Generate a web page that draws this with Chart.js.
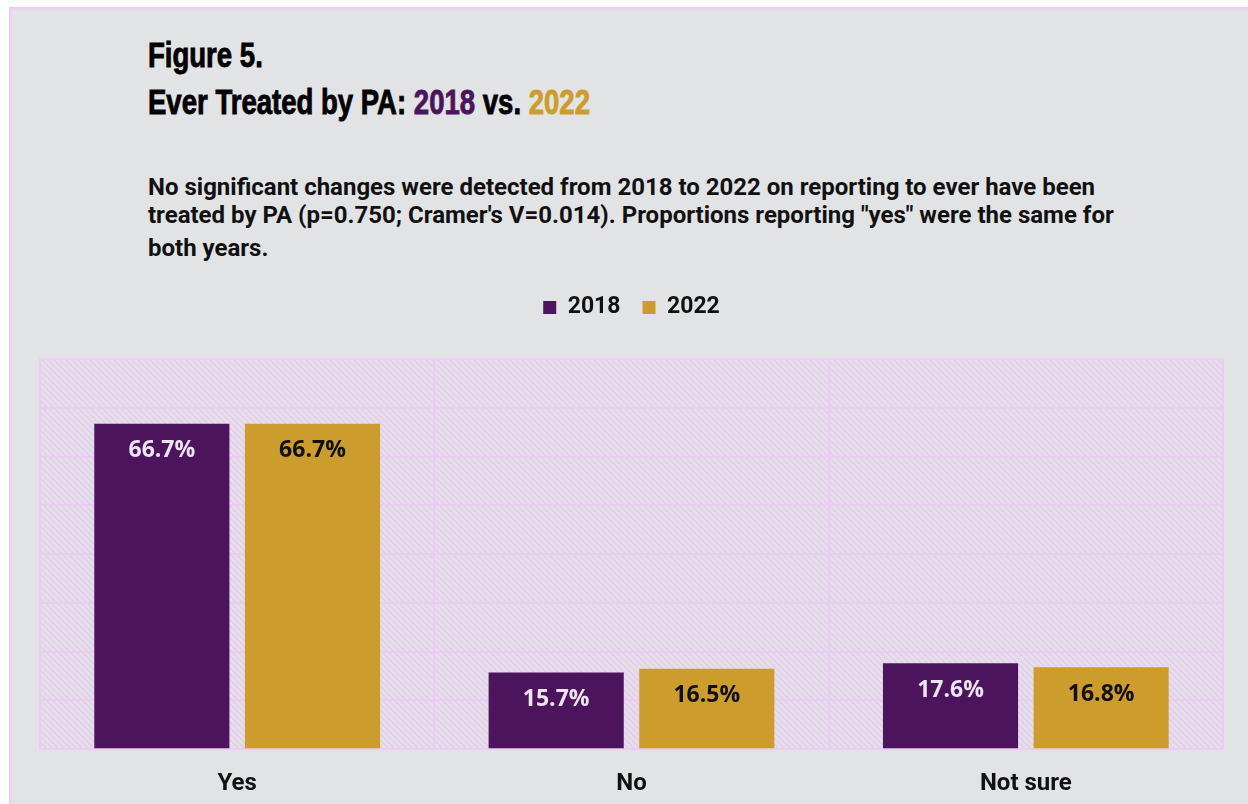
<!DOCTYPE html>
<html>
<head>
<meta charset="utf-8">
<script src="https://cdn.jsdelivr.net/npm/chart.js@4/dist/chart.umd.min.js"></script>
<style>
  html, body { margin: 0; padding: 0; background: #ffffff; overflow: hidden; }
  #frame {
    position: absolute; left: 9px; top: 7px; width: 1245px; height: 810px;
    background: #e2e3e5; border-top: 3px solid #ead0f2; border-left: 3px solid #ead0f2;
    box-sizing: border-box;
  }
  .title {
    position: absolute; left: 148px; margin: 0;
    font-family: "Liberation Sans", Arial, sans-serif;
    font-weight: 700; color: #000; font-size: 35px; line-height: 34px; white-space: nowrap;
    transform-origin: 0 0; -webkit-text-stroke: 0.9px currentColor;
  }
  .t1 { top: 38px; }
  .t2 { top: 85px; }
  .y18 { color: #4c145c; }
  .y22 { color: #cc9c2c; }
  .sub {
    position: absolute; left: 148px; top: 173px; margin: 0;
    font-family: Roboto, sans-serif; font-weight: 700; font-size: 24px; color: #111;
    line-height: 28px; white-space: nowrap;
  }
  .sub span { display: block; }
  .sub span.last { margin-top: 5px; }
  canvas { position: absolute; left: 0; top: 0; }
</style>
</head>
<body>
<div id="frame"></div>
<h1 class="title t1" id="t1">Figure 5.</h1>
<h2 class="title t2" id="t2">Ever Treated by PA: <span class="y18">2018</span> vs. <span class="y22">2022</span></h2>
<p class="sub"><span>No significant changes were detected from 2018 to 2022 on reporting to ever have been</span><span>treated by PA (p=0.750; Cramer's V=0.014). Proportions reporting "yes" were the same for</span><span class="last">both years.</span></p>
<canvas id="chart" width="1248" height="824"></canvas>
<script>
// Survey answers and shares (%) for each year
const categories = ["Yes", "No", "Not sure"];
const seriesNames = ["2018", "2022"];
const values2018 = [66.7, 15.7, 17.6];
const values2022 = [66.7, 16.5, 16.8];

const PURPLE = "#4c145c";
const GOLD = "#cc9c2c";
const GRID = "#ecccf4";

// Condensed heading: squeeze the bold face horizontally to a narrow width
(function () {
  const t2 = document.getElementById("t2");
  const s = 442 / t2.getBoundingClientRect().width;
  document.querySelectorAll(".title").forEach(el => { el.style.transform = "scaleX(" + s + ")"; });
})();

// Diagonal pink hatching behind the bars
function makeHatch(ctx) {
  const c = document.createElement("canvas");
  c.width = 6; c.height = 6;
  const g = c.getContext("2d");
  g.fillStyle = "#e2e2e6";
  g.fillRect(0, 0, 6, 6);
  g.strokeStyle = "rgba(236, 196, 246, 0.9)";
  g.lineWidth = 1.5;
  g.beginPath();
  g.moveTo(-1, -1); g.lineTo(7, 7);
  g.moveTo(-1, 5); g.lineTo(1, 7);
  g.moveTo(5, -1); g.lineTo(7, 1);
  g.stroke();
  return ctx.createPattern(c, "repeat");
}

const hatchPlugin = {
  id: "hatchBg",
  beforeInit(chart) {
    // extra room between the legend and the plot
    const fit = chart.legend.fit;
    chart.legend.fit = function () { fit.call(this); this.height += 30; };
  },
  beforeDraw(chart) {
    const { ctx, chartArea: a } = chart;
    ctx.save();
    ctx.fillStyle = makeHatch(ctx);
    ctx.fillRect(a.left, a.top, a.right - a.left, a.bottom - a.top);
    ctx.restore();
  }
};

const valueLabels = {
  id: "valueLabels",
  afterDatasetsDraw(chart) {
    const { ctx } = chart;
    ctx.save();
    ctx.font = "700 23px 'Open Sans', sans-serif";
    ctx.textAlign = "center";
    ctx.textBaseline = "middle";
    chart.data.datasets.forEach((ds, i) => {
      chart.getDatasetMeta(i).data.forEach((bar, j) => {
        ctx.fillStyle = i === 0 ? "#ece4f0" : "#111111";
        ctx.fillText(ds.data[j].toFixed(1) + "%", bar.x, bar.y + 27);
      });
    });
    ctx.restore();
  }
};

new Chart(document.getElementById("chart"), {
  type: "bar",
  data: {
    labels: categories,
    datasets: [
      { label: seriesNames[0], data: values2018, backgroundColor: PURPLE },
      { label: seriesNames[1], data: values2022, backgroundColor: GOLD }
    ]
  },
  options: {
    responsive: false,
    animation: false,
    categoryPercentage: 0.764,
    barPercentage: 0.897,
    layout: { padding: { top: 274, left: 40, right: 25, bottom: 6 } },
    plugins: {
      legend: {
        position: "top",
        labels: {
          boxWidth: 13, boxHeight: 13, padding: 22,
          color: "#111",
          font: { family: "Roboto", weight: "700", size: 23 }
        }
      },
      tooltip: { enabled: false }
    },
    scales: {
      x: {
        grid: { color: GRID, lineWidth: 2, drawTicks: false },
        border: { color: GRID, width: 2 },
        ticks: { color: "#111", padding: 20, font: { family: "Roboto", weight: "700", size: 24 } }
      },
      y: {
        min: 0, max: 80,
        ticks: { stepSize: 10, display: false },
        grid: { color: GRID, lineWidth: 2, drawTicks: false },
        border: { color: GRID, width: 2 }
      }
    }
  },
  plugins: [hatchPlugin, valueLabels]
});
</script>
</body>
</html>
